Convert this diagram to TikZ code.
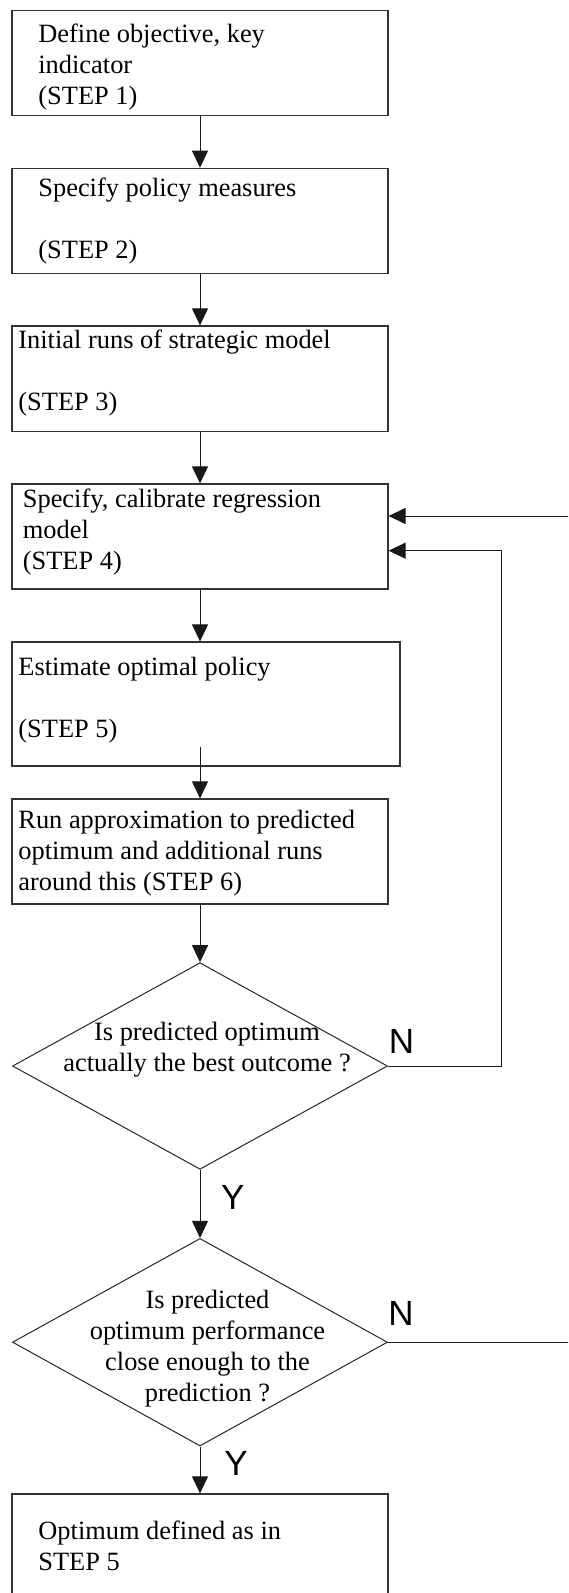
\documentclass[tikz,border=0pt]{standalone}
\usepackage{fontspec}
\setmainfont{Liberation Serif}
\newfontfamily\ynfont{Liberation Sans}
\usetikzlibrary{arrows.meta,shapes.geometric,fit}

\begin{document}
\begin{tikzpicture}[x=0.5pt,y=-0.5pt,>={Triangle[length=8.5pt,width=8pt]},line join=miter,
  stepbox/.style={draw=black!80,line width=0.6pt,inner sep=0pt},
  query/.style={diamond,draw=black!85,line width=0.5pt,inner sep=0pt,minimum width=187.5pt},
  steptext/.style={inner sep=0pt,anchor=north west,align=left,font=\fontsize{13.2}{15.5}\selectfont,execute at begin node=\strut},
  querytext/.style={inner sep=0pt,anchor=north,align=center,font=\fontsize{13.2}{15.5}\selectfont,execute at begin node=\strut},
  answer/.style={inner sep=0pt,font=\ynfont\fontsize{17.5}{20}\selectfont},
  flow/.style={->,black!90,line width=0.5pt}]
  \useasboundingbox (0,0) rectangle (568,1593);
  \clip (0,0) rectangle (568,1593);
  % boxes
  \node[stepbox,fit={(12,10.7) (388,115.7)}] (S1) {};
  \node[stepbox,fit={(12,168.3) (388,273.3)}] (S2) {};
  \node[stepbox,fit={(12,326) (388,431.3)}] (S3) {};
  \node[stepbox,fit={(12,484) (388,589)}] (S4) {};
  \node[stepbox,fit={(12,642) (400,766)}] (S5) {};
  \node[stepbox,fit={(12,799) (388,904)}] (S6) {};
  \node[query,minimum height=103.3pt] (Q1) at (200,1066) {};
  \node[query,minimum height=103.8pt] (Q2) at (200,1342.2) {};
  \node[stepbox,fit={(12,1494) (388,1620)}] (OPT) {};
  % texts
  \node[steptext] (T1) at (38,23.3) {Define objective, key\\indicator\\(STEP 1)};
  \node[steptext] (T2) at (38,177.6) {Specify policy measures\\[15.5pt](STEP 2)};
  \node[steptext] (T3) at (18,330) {Initial runs of strategic model\\[15.5pt](STEP 3)};
  \node[steptext] (T4) at (22.5,488.3) {Specify, calibrate regression\\model\\(STEP 4)};
  \node[steptext] (T5) at (18,656.3) {Estimate optimal policy\\[15.5pt](STEP 5)};
  \node[steptext] (T6) at (18,810) {Run approximation to predicted\\optimum and additional runs\\around this (STEP 6)};
  \node[querytext] (TQ1) at (207,1021.3) {Is predicted optimum\\actually the best outcome ?};
  \node[querytext] (TQ2) at (207.5,1290) {Is predicted\\optimum performance\\close enough to the\\prediction ?};
  \node[steptext] (TOPT) at (38,1520) {Optimum defined as in\\STEP 5};
  % connectors
  \coordinate (S5OUT) at (200,746.7);
  \coordinate (RET1) at (501.3,550.7);
  \coordinate (RET2) at (620,516);
  \draw[flow] (S1) -- (S2);
  \draw[flow] (S2) -- (S3);
  \draw[flow] (S3) -- (S4);
  \draw[flow] (S4.south) -- (S4.south |- S5.north);
  \draw[flow] (S5OUT) -- (S6.north);
  \draw[flow] (S6) -- (Q1);
  \draw[flow] (Q1) -- (Q2);
  \draw[flow] (Q2) -- (OPT);
  \draw[flow] (Q1.east) -| (RET1) -- (S4.east |- RET1);
  \draw[flow] (Q2.east) -| (RET2) -- (S4.east |- RET2);
  \node[answer] (N1) at (401.4,1041) {N};
  \node[answer] (N2) at (401,1313) {N};
  \node[answer] (Y1) at (232.7,1197) {Y};
  \node[answer] (Y2) at (236,1463) {Y};
\end{tikzpicture}
\end{document}
